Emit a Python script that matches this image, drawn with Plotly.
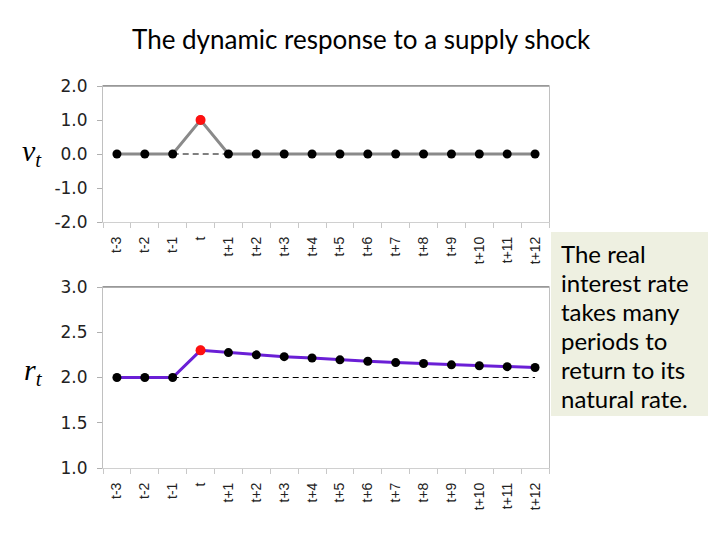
import plotly.graph_objects as go

periods = ["t-3", "t-2", "t-1", "t", "t+1", "t+2", "t+3", "t+4", "t+5", "t+6",
           "t+7", "t+8", "t+9", "t+10", "t+11", "t+12"]
shock_v = [0.0, 0.0, 0.0, 1.0, 0.0, 0.0, 0.0, 0.0, 0.0, 0.0, 0.0, 0.0, 0.0, 0.0, 0.0, 0.0]
real_rate = [2.0, 2.0, 2.0, 2.30, 2.275, 2.25, 2.23, 2.215, 2.195, 2.18, 2.165,
             2.155, 2.14, 2.13, 2.12, 2.11]
shock_base = 0.0
natural_rate = 2.0
highlight = "t"
top_ticks = [-2.0, -1.0, 0.0, 1.0, 2.0]
top_tick_text = ["-2.0", "-1.0", "0.0", "1.0", "2.0"]
bottom_ticks = [1.0, 1.5, 2.0, 2.5, 3.0]
bottom_tick_text = ["1.0", "1.5", "2.0", "2.5", "3.0"]
title_text = "The dynamic response to a supply shock"
note_lines = ["The real", "interest rate", "takes many", "periods to",
              "return to its", "natural rate."]

W, H = 720, 540
OFF = 8  # page body offset
def px(x):
    return (x - OFF) / W
def py(y):
    return 1 - (y - OFF) / H

fig = go.Figure()

base_x = periods[periods.index(highlight) - 1:]
hi_i = periods.index(highlight)

# top panel
fig.add_trace(go.Scatter(x=base_x, y=[shock_base] * len(base_x), mode="lines",
                         line=dict(color="black", width=1, dash="6px,4px"),
                         xaxis="x", yaxis="y", hoverinfo="skip"))
fig.add_trace(go.Scatter(x=periods, y=shock_v, mode="lines+markers",
                         line=dict(color="#8a8a8a", width=3),
                         marker=dict(color="black", size=9),
                         xaxis="x", yaxis="y"))
fig.add_trace(go.Scatter(x=[highlight], y=[shock_v[hi_i]], mode="markers",
                         marker=dict(color="#ff1010", size=10),
                         xaxis="x", yaxis="y"))

# bottom panel
fig.add_trace(go.Scatter(x=base_x, y=[natural_rate] * len(base_x), mode="lines",
                         line=dict(color="black", width=1, dash="6px,4px"),
                         xaxis="x2", yaxis="y2", hoverinfo="skip"))
fig.add_trace(go.Scatter(x=periods, y=real_rate, mode="lines+markers",
                         line=dict(color="#6a1fd6", width=3),
                         marker=dict(color="black", size=9),
                         xaxis="x2", yaxis="y2"))
fig.add_trace(go.Scatter(x=[highlight], y=[real_rate[hi_i]], mode="markers",
                         marker=dict(color="#ff1010", size=10),
                         xaxis="x2", yaxis="y2"))

xdom = [px(103), px(549)]
xtickfont = dict(family="Liberation Sans, Arial", size=14, color="#222222")
ytickfont = dict(family="DejaVu Sans", size=17, color="#222222")
xcommon = dict(type="category", categoryorder="array", categoryarray=periods,
               range=[-0.5, len(periods) - 0.5], domain=xdom, tickangle=-90,
               tickson="boundaries", ticks="outside", ticklen=5, tickcolor="#c8c8c8",
               showline=True, linecolor="#d0d0d0", linewidth=1, mirror=True,
               showgrid=False, zeroline=False, tickfont=xtickfont,
               ticklabelstandoff=8, automargin=False)
ycommon = dict(showgrid=False, zeroline=False, ticks="outside", ticklen=5,
               tickcolor="#b0b0b0", showline=True, linecolor="#c0c0c0", linewidth=1,
               mirror=True, tickmode="array", tickfont=ytickfont, ticklabelstandoff=6,
               automargin=False)

fig.update_layout(
    width=W, height=H, margin=dict(l=0, r=0, t=0, b=0, autoexpand=False),
    paper_bgcolor="white", plot_bgcolor="white", showlegend=False,
    xaxis=dict(xcommon, anchor="y"),
    yaxis=dict(ycommon, domain=[py(222), py(86)], range=[-2, 2],
               tickvals=top_ticks, ticktext=top_tick_text, anchor="x"),
    xaxis2=dict(xcommon, anchor="y2"),
    yaxis2=dict(ycommon, domain=[py(468), py(287)], range=[1, 3],
                tickvals=bottom_ticks, ticktext=bottom_tick_text, anchor="x2"),
)

# darker top border of each plot
for yy in (86, 287):
    fig.add_shape(type="line", xref="paper", yref="paper", x0=px(103), x1=px(549),
                  y0=py(yy), y1=py(yy), line=dict(color="#606060", width=1.2))

# note box
fig.add_shape(type="rect", xref="paper", yref="paper", x0=px(551), x1=px(708),
              y0=py(416), y1=py(232), fillcolor="#eef0e1", line=dict(width=0),
              layer="below")
for i, line in enumerate(note_lines):
    fig.add_annotation(xref="paper", yref="paper", x=px(559), y=py(253 + 29 * i),
                       xanchor="left", yanchor="middle", showarrow=False, text=line,
                       font=dict(family="Lato", size=24, color="black"))

fig.add_annotation(xref="paper", yref="paper", x=px(361), y=py(39), xanchor="center",
                   yanchor="middle", showarrow=False, text=title_text,
                   font=dict(family="Lato", size=26, color="black"))

fig.add_annotation(xref="paper", yref="paper", x=px(32), y=py(153), xanchor="center",
                   yanchor="middle", showarrow=False,
                   text="<i>ν</i><sub><i>t</i></sub>",
                   font=dict(family="Liberation Serif", size=30, color="black"))
fig.add_annotation(xref="paper", yref="paper", x=px(34), y=py(372), xanchor="center",
                   yanchor="middle", showarrow=False,
                   text="<i>r</i><sub><i>t</i></sub>",
                   font=dict(family="Liberation Serif", size=30, color="black"))

fig.write_html("out.html")
